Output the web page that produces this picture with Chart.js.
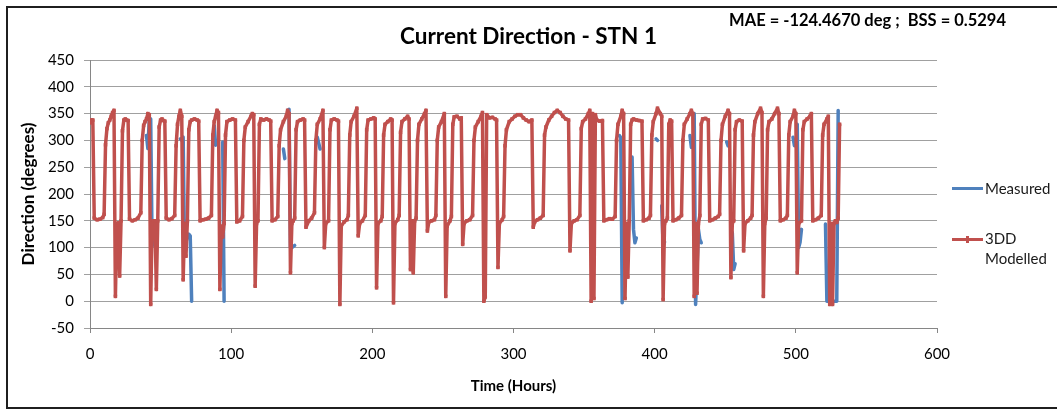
<!DOCTYPE html>
<html>
<head>
<meta charset="utf-8">
<title>Current Direction - STN 1</title>
<script src="https://cdn.jsdelivr.net/npm/chart.js"></script>
<style>
    body { margin: 0; background: #fff; font-family: Lato, 'Open Sans', sans-serif; }
    .chart-box { position: relative; width: 1057px; height: 410px; overflow: hidden; }
    .frame { position: absolute; left: 6px; top: 6px; width: 1070px; height: 403px; box-sizing: border-box; border: 2px solid #1f1f1f; }
    canvas { position: absolute; left: 0; top: 0; }
    .stats { position: absolute; right: 51px; top: 10px; font-weight: bold; font-size: 16.5px; white-space: pre; color: #000; }
    .legend-line { position: absolute; left: 952px; width: 31px; height: 3px; }
    .legend-mark { position: absolute; left: 966px; width: 3px; height: 7px; background: #C0504D; }
    .legend-text { position: absolute; left: 985px; font-size: 15px; color: #1a1a1a; line-height: 20px; }
</style>
</head>
<body>
<div class="chart-box">
    <div class="frame"></div>
    <canvas id="dirChart" width="1057" height="410"></canvas>
    <div class="stats">MAE = -124.4670 deg ;  BSS = 0.5294</div>
    <div class="legend-line" style="top:187px;background:#4F81BD"></div>
    <div class="legend-text" style="top:178px">Measured</div>
    <div class="legend-line" style="top:238px;background:#C0504D"></div>
    <div class="legend-mark" style="top:236px"></div>
    <div class="legend-text" style="top:228px">3DD<br>Modelled</div>
</div>
<script>
// tick labels
const yTicks = [-50, 0, 50, 100, 150, 200, 250, 300, 350, 400, 450];
const xTicks = [0, 100, 200, 300, 400, 500, 600];

// 3DD Modelled - hour / direction (deg), one cycle per line
const modelledHours = [
    0, 1, 2, 3, 5, 7, 9, 10,
    11, 12, 13, 14, 15, 16, 17,
    18, 19, 20, 21, 22, 23, 24, 25, 26, 27,
    28, 30, 32, 34, 36,
    37, 38, 39, 40, 41, 42,
    43, 44, 45, 46, 47, 48, 49, 50, 51, 52, 53,
    54, 56, 58, 60,
    61, 62, 63, 64, 65,
    66, 67, 68, 69, 70, 71, 72, 74, 76, 77,
    78, 80, 82, 84, 86,
    87, 88, 89, 90, 91,
    92, 93, 94, 95, 96, 97, 99, 101, 103,
    104, 106, 108,
    109, 110, 112, 114, 115, 116,
    117, 118, 119, 120, 121, 123, 125, 127, 128,
    129, 131, 133,
    134, 135, 137, 139, 140, 141,
    142, 143, 144, 145, 146, 147, 149, 151, 152,
    153, 155, 157, 159,
    160, 161, 163, 165,
    166, 167, 169, 170, 171, 173, 175, 176,
    177, 178, 180, 182, 183,
    184, 185, 187, 189,
    190, 191, 193, 195,
    196, 197, 199, 201, 202,
    203, 204, 206, 207,
    208, 209, 211, 213, 214,
    215, 216, 218, 219,
    220, 221, 223, 225, 226,
    227, 228, 229, 230, 231,
    232, 233, 235, 237, 238,
    239, 240, 242, 244, 245,
    246, 247, 249, 251,
    252, 253, 255, 256,
    257, 258, 260, 262, 263,
    264, 265, 267, 269, 271,
    272, 273, 275, 277, 278,
    279, 280, 281, 283, 285, 287, 288,
    289, 290, 292, 293,
    294, 295, 297, 299, 301, 303, 305, 307, 309, 311, 313,
    314, 315, 317, 319, 321,
    322, 323, 325, 327, 329, 331, 333, 335, 337, 339,
    340, 341, 343, 345, 347,
    348, 349, 351, 353, 354,
    355, 356, 357, 358, 359, 361, 363,
    364, 366, 368, 370, 372,
    373, 374, 376, 377, 378,
    379, 380, 381, 382, 383, 384, 385, 387, 389, 391,
    392, 394, 396, 397,
    398, 399, 401, 402, 404, 405,
    406, 407, 408, 409, 410, 411, 412,
    413, 415, 417, 419,
    420, 421, 423, 425, 426, 427,
    428, 429, 430, 431, 432, 433, 434, 436, 438,
    439, 441, 443, 445, 446,
    447, 448, 450, 452, 453,
    454, 455, 456, 457, 458, 460, 462,
    463, 464, 466, 468, 469,
    470, 471, 473, 475, 476,
    477, 478, 479, 480, 481, 483, 485, 487, 488,
    489, 491, 493, 494,
    495, 496, 498, 499, 500,
    501, 502, 504, 505, 506, 508, 510, 511,
    512, 514, 516, 518,
    519, 520, 522, 523,
    524, 525, 526, 527, 528, 529, 530, 531
];
const modelledDir = [
    333, 338, 338, 155, 152, 153, 156, 162,
    292, 322, 333, 338, 345, 352, 356,
    9, 142, 146, 47, 150, 318, 338, 340, 338, 337,
    153, 150, 152, 155, 165,
    300, 328, 335, 340, 350, 348,
    -6, 145, 150, 150, 22, 150, 325, 338, 340, 337, 336,
    155, 152, 154, 160,
    290, 330, 345, 356, 345,
    40, 145, 84, 150, 320, 335, 338, 340, 338, 336,
    150, 152, 153, 155, 160,
    310, 335, 345, 356, 352,
    22, 140, 120, 145, 310, 335, 338, 340, 338,
    148, 150, 158,
    300, 325, 335, 345, 350, 348,
    28, 145, 150, 330, 340, 338, 340, 338, 336,
    150, 152, 158,
    290, 320, 335, 345, 356, 350,
    53, 145, 150, 155, 320, 335, 338, 340, 338,
    138, 150, 155, 165,
    300, 330, 340, 356,
    100, 145, 150, 320, 338, 340, 338, 336,
    -6, 140, 148, 152, 160,
    310, 335, 345, 360,
    122, 145, 150, 160,
    320, 338, 340, 342, 340,
    25, 145, 150, 158,
    310, 330, 335, 340, 338,
    -3, 145, 152, 160,
    315, 335, 340, 345, 340,
    59, 150, 53, 150, 155,
    300, 330, 340, 350, 356,
    131, 148, 150, 152, 160,
    300, 325, 335, 350,
    9, 140, 150, 158,
    330, 344, 345, 340, 342,
    106, 145, 150, 152, 160,
    300, 325, 335, 345, 352,
    0, 8, 348, 342, 343, 340, 338,
    63, 145, 152, 158,
    290, 320, 335, 340, 345, 348, 348, 342, 338, 335, 338,
    138, 148, 152, 155, 160,
    310, 325, 338, 345, 352, 356, 352, 345, 340, 338,
    94, 145, 150, 152, 160,
    322, 335, 340, 350, 356,
    0, 350, 5, 348, 338, 336, 337,
    150, 152, 154, 153, 158,
    300, 330, 345, 356, 350,
    5, 145, 45, 150, 330, 338, 340, 338, 337, 336,
    150, 152, 155, 160,
    310, 335, 350, 360, 350, 345,
    3, 145, 150, 155, 330, 338, 336,
    150, 152, 155, 160,
    300, 330, 340, 350, 356, 350,
    9, 145, 15, 145, 160, 330, 340, 341, 338,
    150, 152, 155, 158, 162,
    300, 330, 345, 356, 350,
    44, 145, 150, 320, 335, 338, 336,
    94, 145, 150, 155, 160,
    310, 335, 350, 360, 352,
    9, 145, 155, 320, 335, 340, 350, 360, 350,
    150, 152, 155, 160,
    310, 335, 345, 356, 350,
    53, 145, 150, 320, 335, 340, 345, 350,
    150, 152, 155, 160,
    310, 330, 340, 345,
    -6, 145, -6, 145, 150, 147, 155, 330
];

// Measured - only the stretches that show from under the modelled line (null = gap)
const measuredHours = [
    40, 41, 42, 43, 44, 45, 46,
    64, 65, 66, 67, 68, 69, 70, 71, 72, 73,
    88, 89, 90,
    94, 95, 96,
    137, 138, 139,
    141, 142, 143, 145, 146,
    161, 163, 164,
    375, 376, 377, 378,
    384, 385, 386, 387, 388,
    401, 402, 403,
    405, 406, 407, 408,
    425, 426, 427,
    428, 429, 430, 431, 432, 433, 434,
    451, 452, 453,
    455, 456, 457, 458,
    498, 499, 500,
    501, 502, 503, 504, 505,
    521, 522, 525, 528, 529, 530
];
const measuredDir = [
    309, 285, 338, 340, 103, 109, null,
    303, 300, 306, 84, 110, 122, 125, 122, 0, null,
    328, 291, null,
    297, 0, null,
    284, 266, null,
    358, 100, 100, 104, null,
    306, 284, null,
    309, 305, -3, null,
    269, 134, 109, 118, null,
    303, 300, null,
    178, 103, 110, null,
    309, 287, null,
    350, -6, 60, 134, 115, 109, null,
    297, 290, null,
    128, 59, 70, null,
    306, 290, null,
    330, 100, 110, 134, null,
    144, 0, 0, 0, 0, 356
];

const BLUE = '#4F81BD';
const RED = '#C0504D';

const toPoints = (xs, ys) => xs.map((x, i) => ({ x: x, y: ys[i] }));

const ctx = document.getElementById('dirChart').getContext('2d');
new Chart(ctx, {
    type: 'line',
    data: {
        datasets: [{
            label: '3DD Modelled',
            data: toPoints(modelledHours, modelledDir),
            borderColor: RED,
            backgroundColor: RED,
            borderWidth: 3.5,
            borderJoinStyle: 'round',
            borderCapStyle: 'round',
            pointRadius: 2.5,
            pointStyle: 'rect',
            pointBorderWidth: 0,
            tension: 0,
            order: 1
        }, {
            label: 'Measured',
            data: toPoints(measuredHours, measuredDir),
            borderColor: BLUE,
            backgroundColor: BLUE,
            borderWidth: 3.5,
            borderJoinStyle: 'round',
            borderCapStyle: 'round',
            pointRadius: 0,
            spanGaps: false,
            tension: 0,
            order: 2
        }]
    },
    options: {
        responsive: false,
        animation: false,
        layout: { padding: 0 },
        plugins: {
            legend: { display: false },
            tooltip: { enabled: false },
            title: {
                display: true,
                text: 'Current Direction - STN 1',
                color: '#000',
                font: { family: 'Lato', size: 22.5, weight: 'bold' },
                padding: { top: 23, bottom: 10 }
            }
        },
        scales: {
            x: {
                type: 'linear',
                min: 0,
                max: 600,
                afterFit: (scale) => { scale.height = 82; },
                afterBuildTicks: (scale) => { scale.ticks = xTicks.map(v => ({ value: v })); },
                grid: { drawOnChartArea: false, color: '#868686', tickLength: 5 },
                border: { color: '#868686' },
                ticks: { color: '#000', padding: 12, font: { family: 'Lato', size: 15 } },
                title: {
                    display: true,
                    text: 'Time (Hours)',
                    color: '#000',
                    font: { family: 'Lato', size: 15, weight: 'bold' },
                    padding: { top: 0, bottom: 15 }
                }
            },
            y: {
                min: -50,
                max: 450,
                afterFit: (scale) => { scale.width = 90; },
                afterBuildTicks: (scale) => { scale.ticks = yTicks.map(v => ({ value: v })); },
                grid: { color: '#a0a0a0', tickLength: 6 },
                border: { color: '#868686' },
                ticks: { color: '#000', padding: 10, font: { family: 'Lato', size: 15 } },
                title: {
                    display: true,
                    text: 'Direction (degrees)',
                    color: '#000',
                    font: { family: 'Lato', size: 17, weight: 'bold' },
                    padding: { top: 18, bottom: 0 }
                }
            },
            // empty right-hand strip that holds the legend
            legendSpace: {
                position: 'right',
                min: 0,
                max: 1,
                afterFit: (scale) => { scale.width = 120; },
                grid: { display: false },
                border: { display: false },
                ticks: { display: false }
            }
        }
    }
});
</script>
</body>
</html>
